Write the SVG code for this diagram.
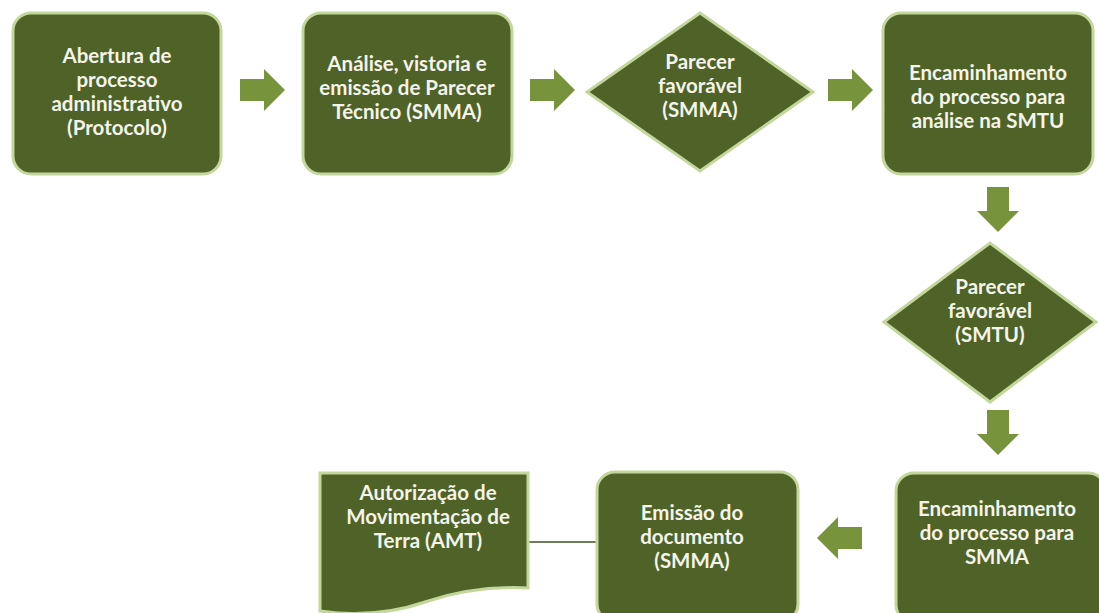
<svg xmlns="http://www.w3.org/2000/svg" width="1099" height="613" viewBox="0 0 1099 613">
<style>
.n{fill:#4f6228;stroke:#c3d69b;stroke-width:3}
.a{fill:#77933c}
.t{font-family:Lato,"Liberation Sans",sans-serif;font-weight:bold;font-size:20.5px;fill:#f4f4ea;text-anchor:middle}
</style>
<defs>
<path id="ar" d="M0,-11 H24 V-21 L45,0 L24,21 V11 H0 Z"/>
</defs>
<rect width="1099" height="613" fill="#ffffff"/>
<g id="connectors">
<use href="#ar" class="a" transform="translate(240,90)"/>
<use href="#ar" class="a" transform="translate(530,90)"/>
<use href="#ar" class="a" transform="translate(828,90)"/>
<use href="#ar" class="a" transform="translate(998,187) rotate(90)"/>
<use href="#ar" class="a" transform="translate(998,410) rotate(90)"/>
<use href="#ar" class="a" transform="translate(862,538) rotate(180)"/>
<line x1="527" y1="542" x2="597" y2="542" stroke="#3f5020" stroke-width="1.5"/>
</g>
<g id="n1">
<rect class="n" x="13" y="13" width="208" height="161" rx="18"/>
<text class="t" x="117" y="63">Abertura de</text>
<text class="t" x="117" y="87">processo</text>
<text class="t" x="117" y="111">administrativo</text>
<text class="t" x="117" y="135">(Protocolo)</text>
</g>
<g id="n2">
<rect class="n" x="303" y="13" width="209" height="161" rx="18"/>
<text class="t" x="407" y="71">Análise, vistoria e</text>
<text class="t" x="407" y="95">emissão de Parecer</text>
<text class="t" x="407" y="119">Técnico (SMMA)</text>
</g>
<g id="n3">
<polygon class="n" points="700,13 813,92 700,171 587,92"/>
<text class="t" x="700" y="69">Parecer</text>
<text class="t" x="700" y="93">favorável</text>
<text class="t" x="700" y="117">(SMMA)</text>
</g>
<g id="n4">
<rect class="n" x="883" y="13" width="210" height="161" rx="18"/>
<text class="t" x="988" y="80">Encaminhamento</text>
<text class="t" x="988" y="104">do processo para</text>
<text class="t" x="988" y="128">análise na SMTU</text>
</g>
<g id="n5">
<polygon class="n" points="990,243 1096,322 990,402 884,322"/>
<text class="t" x="990" y="294">Parecer</text>
<text class="t" x="990" y="318">favorável</text>
<text class="t" x="990" y="342">(SMTU)</text>
</g>
<g id="n6">
<rect class="n" x="896" y="473" width="210" height="150" rx="18"/>
<text class="t" x="997" y="516">Encaminhamento</text>
<text class="t" x="997" y="540">do processo para</text>
<text class="t" x="997" y="564">SMMA</text>
</g>
<g id="n7">
<rect class="n" x="597" y="472" width="201" height="150" rx="18"/>
<text class="t" x="692" y="520">Emissão do</text>
<text class="t" x="692" y="544">documento</text>
<text class="t" x="692" y="568">(SMMA)</text>
</g>
<g id="n8">
<path class="n" d="M320,473 H528 V588 C490,586 455,592 425,602 C390,614 355,616 320,611 Z"/>
<text class="t" x="428" y="500">Autorização de</text>
<text class="t" x="428" y="524">Movimentação de</text>
<text class="t" x="428" y="548">Terra (AMT)</text>
</g>
</svg>
